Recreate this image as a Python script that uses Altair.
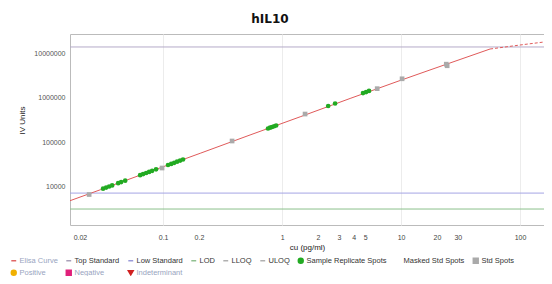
import altair as alt
import pandas as pd

# ---- data ----
curve_conc = [0.0165, 0.0296, 0.0778, 0.205, 0.538, 1.42, 3.73, 9.81, 17.5, 31.3, 56.0]
curve_iv = [4920, 8650, 22300, 57200, 147500, 378000, 976000, 2470000, 4260000, 7330000, 12600000]
ext_conc = [56.0, 100, 159]
ext_iv = [12600000, 15500000, 18100000]

sample_conc = [0.0313, 0.0332, 0.0352, 0.0373, 0.0419, 0.0444, 0.0480,
               0.0641, 0.0679, 0.0720, 0.0763, 0.0809, 0.0873,
               0.110, 0.117, 0.124, 0.131, 0.139, 0.147,
               0.762, 0.793, 0.824, 0.857, 0.891,
               2.44, 2.79, 4.79, 5.08, 5.38]
sample_iv = [9160, 9700, 10260, 10860, 12170, 12880, 13860,
             18410, 19490, 20630, 21840, 23120, 24980,
             31200, 33030, 34970, 37020, 39200, 41500,
             206000, 215000, 223000, 232000, 241000,
             661000, 752000, 1290000, 1360000, 1440000]

std_conc = [0.0239, 0.098, 0.38, 1.56, 6.3, 10.2, 24.4, 24.0]
std_iv = [6780, 26700, 108000, 436000, 1620000, 2700000, 5300000, 5750000]

top_standard = [14000000]
low_standard = [7300]
lod = [3200]

x_ticks = [0.02, 0.1, 0.2, 1, 2, 3, 4, 5, 10, 20, 30, 100]
y_ticks = [10000, 100000, 1000000, 10000000]

legend_items = ["Elisa Curve", "Top Standard", "Low Standard", "LOD", "LLOQ", "ULOQ",
                "Sample Replicate Spots", "Masked Std Spots", "Std Spots",
                "Positive", "Negative", "Indeterminant"]
legend_colors = ["#e06666", "#a8a0b8", "#9a9ad8", "#90c090", "#b0b0b0", "#b0b0b0",
                 "#22aa22", "#ffffff", "#aaaaaa",
                 "#f0b000", "#e0207a", "#d02020"]
legend_shapes = ["stroke", "stroke", "stroke", "stroke", "stroke", "stroke",
                 "circle", "square", "square",
                 "circle", "square", "triangle-down"]
faded_labels = ["Elisa Curve", "Positive", "Negative", "Indeterminant"]

FONT = "Liberation Sans"

xscale = alt.Scale(type="log", domain=[0.0165, 159], nice=False)
yscale = alt.Scale(type="log", domain=[1400, 27400000], nice=False)

xaxis = alt.Axis(values=x_ticks, format="~g", labelFont=FONT, labelFontSize=7,
                 labelColor="#444", ticks=False, domain=False, labelPadding=8,
                 labelFlush=False, labelOverlap=False,
                 grid=True,
                 gridColor={"condition": {"test": "indexof([0.1, 1, 10, 100], datum.value) >= 0",
                                          "value": "#ececec"}, "value": "transparent"},
                 title="cu (pg/ml)", titleFont=FONT, titleFontSize=8,
                 titleFontWeight="normal", titleColor="#222",
                 titleY=22, titleBaseline="middle")
yaxis = alt.Axis(values=y_ticks, format="d", labelFont=FONT, labelFontSize=7,
                 labelColor="#555", ticks=False, domain=False, labelPadding=5,
                 grid=False, title="IV Units", titleFont=FONT, titleFontSize=8,
                 titleFontWeight="normal", titleColor="#222",
                 titleX=-48, titleY=86, titleBaseline="middle", titleAlign="center")

faded_js = "[" + ",".join("'" + s + "'" for s in faded_labels) + "]"
leg = alt.Legend(orient="none", legendX=-60, legendY=223, direction="horizontal",
                 columns=9, gridAlign="none", columnPadding=5, rowPadding=0,
                 symbolSize=24, symbolStrokeWidth=1.5, labelFont=FONT, labelFontSize=7.5,
                 labelOffset=2, labelLimit=0, title=None, padding=0,
                 symbolStrokeColor={"expr": "scale('color', datum.value)"},
                 labelColor={"expr": "indexof(" + faded_js + ", datum.label) >= 0 ? '#98a4c0' : '#333333'"})

curve_df = pd.DataFrame({"conc": curve_conc, "iv": curve_iv})
ext_df = pd.DataFrame({"conc": ext_conc, "iv": ext_iv})
pts_df = pd.DataFrame({
    "conc": sample_conc + std_conc,
    "iv": sample_iv + std_iv,
    "series": ["Sample Replicate Spots"] * len(sample_conc) + ["Std Spots"] * len(std_conc),
})

X = alt.X("conc:Q", scale=xscale, axis=xaxis)
Y = alt.Y("iv:Q", scale=yscale, axis=yaxis)

rule_top = alt.Chart(pd.DataFrame({"iv": top_standard})).mark_rule(color="#b4aac8", strokeWidth=1).encode(y=Y)
rule_low = alt.Chart(pd.DataFrame({"iv": low_standard})).mark_rule(color="#a4a4e4", strokeWidth=1).encode(y=Y)
rule_lod = alt.Chart(pd.DataFrame({"iv": lod})).mark_rule(color="#8cc08c", strokeWidth=1).encode(y=Y)

curve = alt.Chart(curve_df).mark_line(color="#e05a5a", strokeWidth=1).encode(x=X, y=Y)
curve_ext = alt.Chart(ext_df).mark_line(color="#e05a5a", strokeWidth=1, strokeDash=[3, 2]).encode(x=X, y=Y)

points = alt.Chart(pts_df).mark_point(filled=True, size=22, opacity=1).encode(
    x=X, y=Y,
    color=alt.Color("series:N", scale=alt.Scale(domain=legend_items, range=legend_colors), legend=leg),
    shape=alt.Shape("series:N", scale=alt.Scale(domain=legend_items, range=legend_shapes), legend=leg),
)

chart = alt.layer(rule_top, rule_low, rule_lod, curve, curve_ext, points).properties(
    width=474, height=191,
    title=alt.TitleParams("hIL10", font="DejaVu Sans", fontSize=12, fontWeight="bold",
                          color="#111", anchor="middle", dx=-37, offset=8),
    padding={"left": 62, "top": 26, "right": 0, "bottom": 51},
    autosize=alt.AutoSizeParams(type="none"),
).configure_view(stroke="#bbbbbb", strokeWidth=1)

chart.save("out.html", embed_options={"renderer": "svg", "actions": False})
